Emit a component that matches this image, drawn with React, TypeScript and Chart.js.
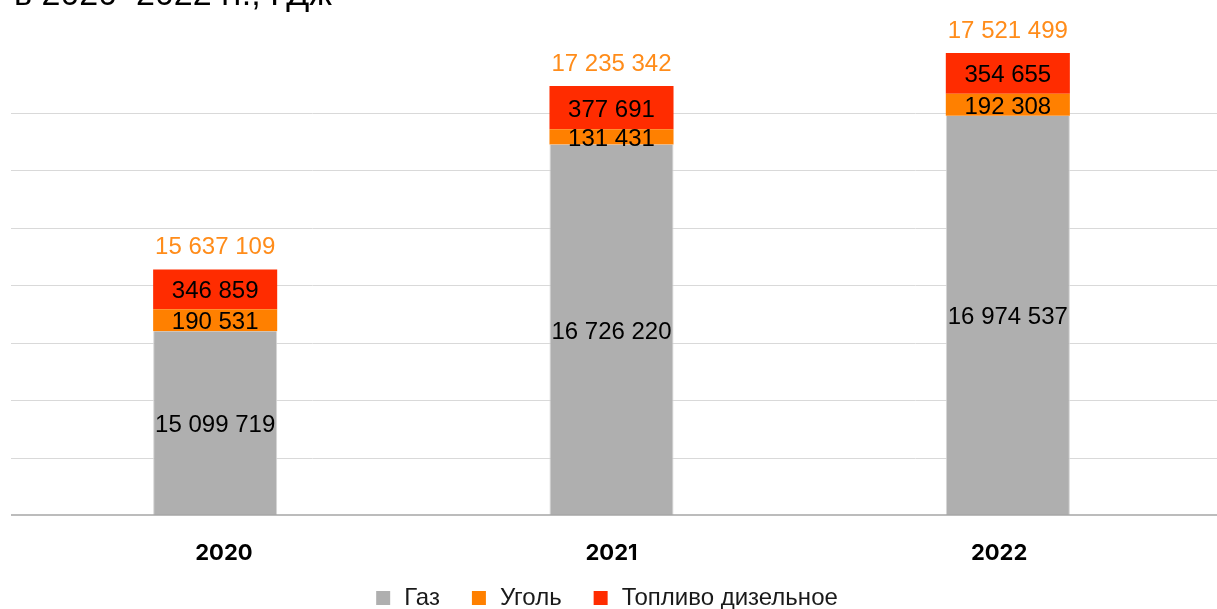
import React, { useEffect, useRef } from "react";
import { Chart, registerables } from "chart.js";

Chart.register(...registerables);

const categories = ["2020", "2021", "2022"];
const gas = [15099719, 16726220, 16974537];
const coal = [190531, 131431, 192308];
const diesel = [346859, 377691, 354655];
const totals = [15637109, 17235342, 17521499];
const seriesNames = ["Газ", "Уголь", "Топливо дизельное"];
const seriesColors = ["#afafaf", "#ff8000", "#ff2c00"];
const yTicks = [13500000, 14000000, 14500000, 15000000, 15500000, 16000000, 16500000, 17000000];
const titleText = "в 2020–2022 гг., ГДж";

const W = 1217;
const H = 609;

const fmt = (v: number) => String(v).replace(/\B(?=(\d{3})+(?!\d))/g, " ");

const drawPlugin = {
  id: "customDraw",
  beforeDatasetsDraw(chart: any) {
    const ctx = chart.ctx;
    const y = chart.scales.y;
    ctx.save();
    ctx.strokeStyle = "#d9d9d9";
    ctx.lineWidth = 1;
    yTicks.slice(1).forEach((v) => {
      const py = Math.round(y.getPixelForValue(v)) + 0.5;
      ctx.beginPath();
      ctx.moveTo(11, py);
      ctx.lineTo(W, py);
      ctx.stroke();
    });
    ctx.restore();
  },
  afterDatasetsDraw(chart: any) {
    const ctx = chart.ctx;
    const area = chart.chartArea;
    const y = chart.scales.y;
    ctx.save();
    // axis line
    const py = y.getPixelForValue(yTicks[0]);
    ctx.strokeStyle = "#a6a6a6";
    ctx.lineWidth = 1.5;
    ctx.beginPath();
    ctx.moveTo(11, py);
    ctx.lineTo(W, py);
    ctx.stroke();

    // segment labels
    ctx.textAlign = "center";
    ctx.textBaseline = "alphabetic";
    ctx.font = "24px 'Liberation Sans', Arial, sans-serif";
    ctx.fillStyle = "#000000";
    chart.data.datasets.forEach((ds: any, di: number) => {
      const meta = chart.getDatasetMeta(di);
      meta.data.forEach((el: any, i: number) => {
        const base = Math.min(el.base, area.bottom);
        const cy = (el.y + base) / 2;
        ctx.fillText(fmt(ds.data[i]), el.x, cy + 9);
      });
    });

    // totals
    const topMeta = chart.getDatasetMeta(chart.data.datasets.length - 1);
    ctx.fillStyle = "#ff8c1a";
    topMeta.data.forEach((el: any, i: number) => {
      ctx.fillText(fmt(totals[i]), el.x, el.y - 15);
    });

    // category labels
    const cx = (area.left + area.right) / 2;
    ctx.font = "bold 22px Inter, 'Liberation Sans', sans-serif";
    ctx.fillStyle = "#000000";
    topMeta.data.forEach((el: any, i: number) => {
      const lx = cx + (el.x - cx) * 0.978;
      ctx.fillText(categories[i], lx, 560);
    });

    // legend
    ctx.font = "24px 'Liberation Sans', Arial, sans-serif";
    ctx.textAlign = "left";
    const box = 14;
    const gapText = 14;
    const gapItem = 32;
    const widths = seriesNames.map((n) => ctx.measureText(n).width);
    const total = widths.reduce((a, b) => a + b + box + gapText, 0) + gapItem * (seriesNames.length - 1);
    let lxPos = 607 - total / 2;
    seriesNames.forEach((n, i) => {
      ctx.fillStyle = seriesColors[i];
      ctx.fillRect(lxPos, 591, box, box);
      ctx.fillStyle = "#1a1a1a";
      ctx.fillText(n, lxPos + box + gapText, 605);
      lxPos += box + gapText + widths[i] + gapItem;
    });

    // cut-off title
    ctx.font = "34px 'Liberation Sans', Arial, sans-serif";
    ctx.fillStyle = "#000000";
    ctx.fillText(titleText, 14, 5);
    ctx.restore();
  },
};

export default function App() {
  const ref = useRef<HTMLCanvasElement | null>(null);

  useEffect(() => {
    if (!ref.current) return;
    const chart = new Chart(ref.current, {
      type: "bar",
      data: {
        labels: categories,
        datasets: [
          { label: seriesNames[0], data: gas, backgroundColor: seriesColors[0], borderColor: "#d6d6d6", borderWidth: { left: 1, right: 1, top: 0, bottom: 0 } as any, borderSkipped: false as any },
          { label: seriesNames[1], data: coal, backgroundColor: seriesColors[1], borderWidth: 0 },
          { label: seriesNames[2], data: diesel, backgroundColor: seriesColors[2], borderWidth: 0 },
        ],
      },
      options: {
        responsive: false,
        animation: false,
        devicePixelRatio: 1,
        layout: { padding: { left: 17, right: 11, top: 44, bottom: 94 } },
        datasets: { bar: { barPercentage: 0.313, categoryPercentage: 1 } },
        plugins: { legend: { display: false }, tooltip: { enabled: false } },
        scales: {
          x: { display: false, stacked: true, offset: true },
          y: { display: false, stacked: true, min: 13500000, max: 17600000 },
        },
      },
      plugins: [drawPlugin],
    });
    return () => chart.destroy();
  }, []);

  return (
    <div style={{ position: "absolute", left: 0, top: 0, width: W, height: H, background: "#ffffff" }}>
      <canvas ref={ref} width={W} height={H} style={{ width: W, height: H }} />
    </div>
  );
}
